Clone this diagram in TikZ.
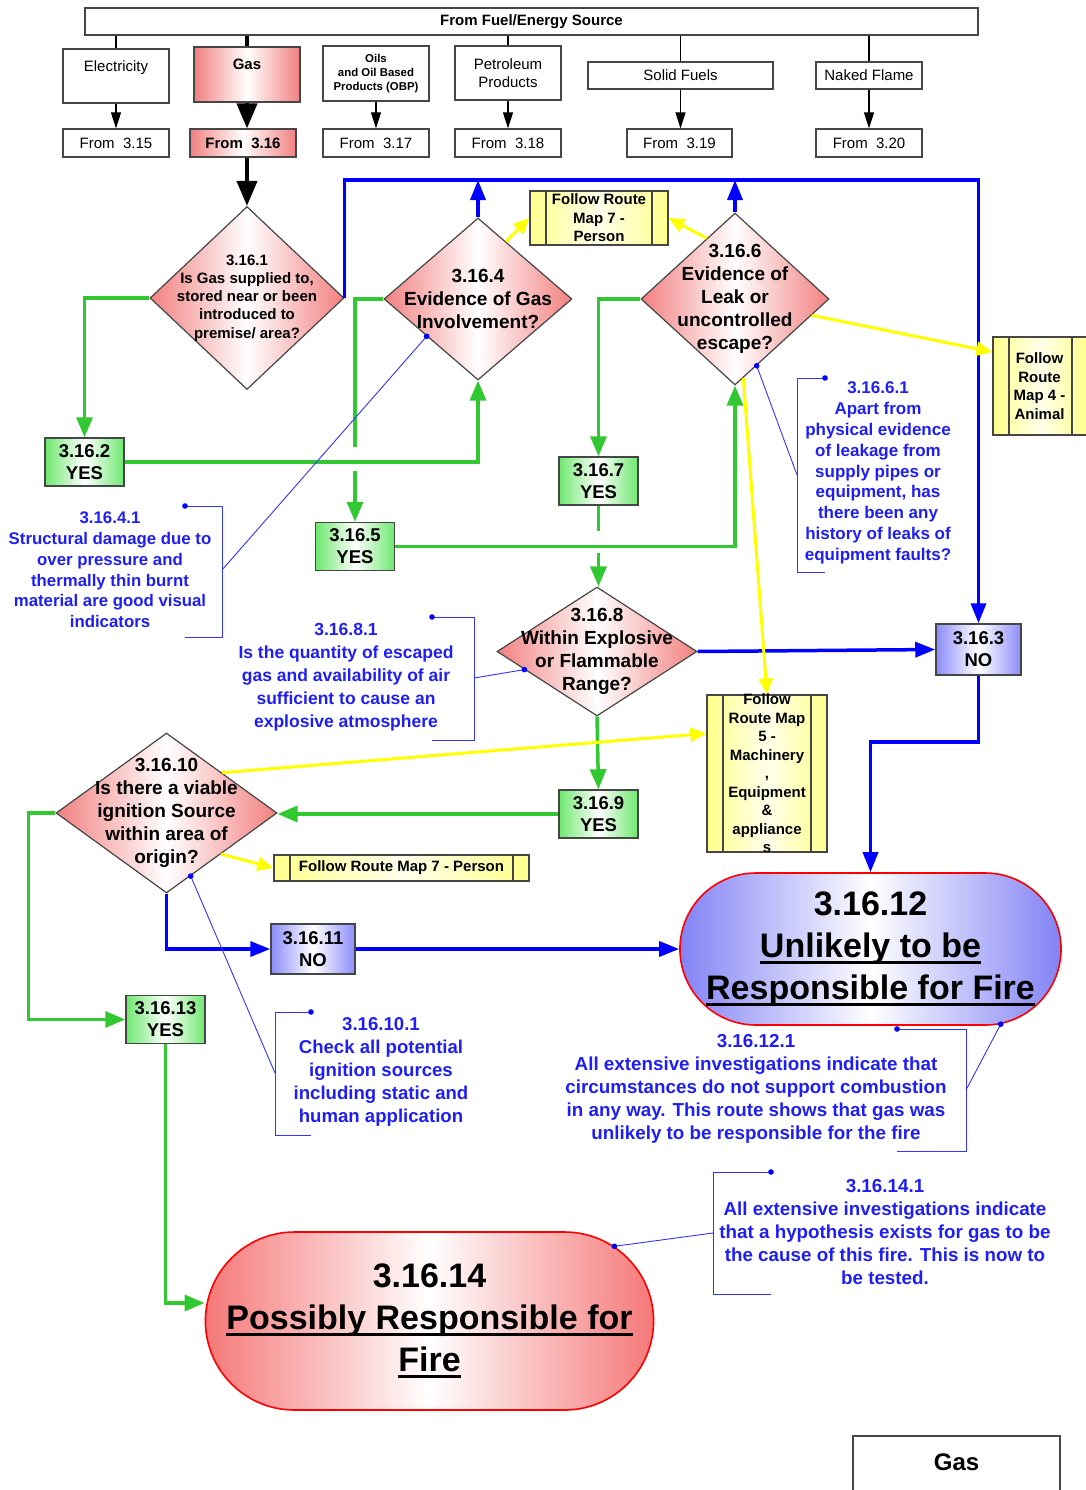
\documentclass[tikz,border=0pt]{standalone}
\usepackage{fontspec}
\setmainfont{Liberation Sans}
\usetikzlibrary{arrows.meta}
\usetikzlibrary{shapes.geometric,shapes.misc}

\definecolor{diared}{RGB}{242,128,128}
\definecolor{boxgreen}{RGB}{110,232,110}
\definecolor{boxblue}{RGB}{140,140,250}
\definecolor{boxyellow}{RGB}{255,255,140}
\definecolor{endblue}{RGB}{130,130,245}
\definecolor{endred}{RGB}{245,120,120}
\definecolor{linegreen}{RGB}{50,200,50}
\definecolor{lineblue}{RGB}{0,0,255}
\definecolor{lineyellow}{RGB}{255,255,0}
\definecolor{notetext}{RGB}{30,30,245}
\definecolor{rimgray}{RGB}{70,70,70}

\newcommand\thickul[1]{\setbox0\hbox{#1}\rlap{\rule[-7pt]{\wd0}{3pt}}\box0}

\tikzstyle{plain box}=[draw=rimgray,line width=1.2,fill=white,inner sep=0,align=center,
                       font=\fontsize{15}{18}\selectfont]
\tikzstyle{gas box}=[plain box,left color=diared,right color=diared,middle color=white,
                     font=\fontsize{15}{18}\selectfont\bfseries]
\tikzstyle{question}=[diamond,draw=rimgray,line width=1.2,left color=diared,right color=diared,
                      middle color=white,inner sep=0]
\tikzstyle{question text}=[align=center,font=\fontsize{19}{23}\selectfont\bfseries]
\tikzstyle{yes}=[draw=rimgray,line width=1.5,left color=boxgreen,right color=boxgreen,middle color=white,
                 minimum width=79pt,minimum height=48pt,inner sep=0,align=center,
                 font=\fontsize{18.5}{22}\selectfont\bfseries]
\tikzstyle{no}=[yes,left color=boxblue,right color=boxblue,middle color=white]
\tikzstyle{route}=[draw=rimgray,line width=1.2,left color=boxyellow,right color=boxyellow,
                   middle color=yellow!8,inner sep=0,
   path picture={\draw[rimgray,line width=1.2] ([xshift=16pt]path picture bounding box.north west)
                     -- ([xshift=16pt]path picture bounding box.south west);
                 \draw[rimgray,line width=1.2] ([xshift=-16pt]path picture bounding box.north east)
                     -- ([xshift=-16pt]path picture bounding box.south east);}]
\tikzstyle{route text}=[align=center,font=\fontsize{15}{18.5}\selectfont\bfseries]
\tikzstyle{outcome}=[rounded rectangle,draw=red,line width=1.6,inner sep=0,align=center,
                     font=\fontsize{34}{42}\selectfont\bfseries]
\tikzstyle{note}=[notetext,align=center,inner sep=0]
\tikzstyle{note line}=[draw=lineblue!80,line width=0.9]
\tikzstyle{yes flow}=[linegreen,line width=3.5,-{Triangle[length=20pt,width=16pt]}]
\tikzstyle{no flow}=[lineblue,line width=3.5,-{Triangle[length=20pt,width=15pt]}]
\tikzstyle{other flow}=[lineyellow,line width=3,-{Triangle[length=16pt,width=14pt]}]
\tikzstyle{feed}=[black,line width=1.2,-{Triangle[length=16pt,width=10pt]}]
\tikzstyle{gas feed}=[black,line width=4,-{Triangle[length=25pt,width=20pt]}]

\begin{document}
\begin{tikzpicture}[x=1pt,y=-1pt]
        \useasboundingbox (0,0) rectangle (1085,1490);

        % SOURCES
        \node[plain box,minimum width=893pt,minimum height=27pt,font=\fontsize{15}{18}\selectfont\bfseries]
              (src) at (531.5,21.5) {From Fuel/Energy Source};
        \node[plain box,minimum width=106pt,minimum height=54pt,text depth=20pt] (elec) at (116,76) {Electricity};
        \node[gas box,minimum width=106pt,minimum height=55pt,text depth=20pt] (gas) at (247,74.5) {Gas};
        \node[plain box,minimum width=106pt,minimum height=55pt,font=\fontsize{11.4}{14}\selectfont\bfseries]
              (oils) at (376,73.5) {Oils\\and Oil Based\\Products (OBP)};
        \node[plain box,minimum width=106pt,minimum height=54pt] (petro) at (508,73) {Petroleum\\Products};
        \node[plain box,minimum width=185pt,minimum height=27pt] (solid) at (680.5,75.5) {Solid Fuels};
        \node[plain box,minimum width=106pt,minimum height=27pt] (flame) at (869,75.5) {Naked Flame};

        \node[plain box,minimum width=106pt,minimum height=28pt] (f15) at (116,143) {From\ \ 3.15};
        \node[gas box,minimum width=106pt,minimum height=28pt] (f16) at (243,143) {From\ \ 3.16};
        \node[plain box,minimum width=106pt,minimum height=28pt] (f17) at (376,143) {From\ \ 3.17};
        \node[plain box,minimum width=106pt,minimum height=28pt] (f18) at (508,143) {From\ \ 3.18};
        \node[plain box,minimum width=105pt,minimum height=28pt] (f19) at (679.5,143) {From\ \ 3.19};
        \node[plain box,minimum width=106pt,minimum height=28pt] (f20) at (869,143) {From\ \ 3.20};

        \draw[black,line width=1.2] (elec.north) -- (elec.north |- src.south);
        \draw[black,line width=4] (gas.north) -- (gas.north |- src.south);
        \draw[black,line width=1.2] (petro.north) -- (petro.north |- src.south);
        \draw[black,line width=1.2] (solid.north) -- (solid.north |- src.south);
        \draw[black,line width=1.2] (flame.north) -- (flame.north |- src.south);

        \draw[feed] (elec.south) -- (f15.north);
        \draw[gas feed] (gas.south) -- (gas.south |- f16.north);
        \draw[feed] (oils.south) -- (f17.north);
        \draw[feed] (petro.south) -- (f18.north);
        \draw[feed] (solid.south) -- (solid.south |- f19.north);
        \draw[feed] (flame.south) -- (f20.north);

        % QUESTIONS
        \node[question,minimum width=194pt,minimum height=183pt] (d1) at (247,298) {};
        \node[question text,font=\fontsize{15}{18.3}\selectfont\bfseries] (d1txt) at (d1.center)
              {3.16.1\\Is Gas supplied to,\\stored near or been\\introduced to\\premise/ area?};
        \node[question,minimum width=188pt,minimum height=162pt] (d4) at (478,299) {};
        \node[question text] (d4txt) at (d4.center) {3.16.4\\Evidence of Gas\\Involvement?};
        \node[question,minimum width=188pt,minimum height=172pt] (d6) at (735,299) {};
        \node[question text] (d6txt) at (d6.center) {3.16.6\\Evidence of\\Leak or\\uncontrolled\\escape?};
        \node[question,minimum width=200pt,minimum height=129pt] (d8) at (597,651.5) {};
        \node[question text] (d8txt) at (d8.center) {3.16.8\\Within Explosive\\or Flammable\\Range?};
        \node[question,minimum width=221pt,minimum height=160pt] (d10) at (166.5,813) {};
        \node[question text] (d10txt) at (d10.center)
              {3.16.10\\Is there a viable\\ignition Source\\within area of\\origin?};

        \draw[gas feed] (d1.north |- f16.south) -- (d1.north);

        % ANSWERS
        \node[yes] (y2) at (84.5,462) {3.16.2\\YES};
        \node[yes] (y5) at (355,546.5) {3.16.5\\YES};
        \node[yes] (y7) at (598.5,481) {3.16.7\\YES};
        \node[yes] (y9) at (598.5,814) {3.16.9\\YES};
        \node[yes] (y13) at (165.5,1019.5) {3.16.13\\YES};
        \node[no,minimum width=85pt,minimum height=51pt] (n3) at (978.5,649.5) {3.16.3\\NO};
        \node[no,minimum width=84pt,minimum height=50pt] (n11) at (313,949) {3.16.11\\NO};

        % OTHER ROUTE MAPS
        \node[route,minimum width=138pt,minimum height=54pt] (m7a) at (599,218) {};
        \node[route text] (m7atxt) at (m7a.center) {Follow Route\\Map 7 -\\Person};
        \node[route,minimum width=95pt,minimum height=98pt] (m4) at (1040.5,386) {};
        \node[route text] (m4txt) at ([xshift=-1pt]m4.center) {Follow\\Route\\Map 4 -\\Animal};
        \node[route,minimum width=120pt,minimum height=157pt] (m5) at (767,773.5) {};
        \node[route text] (m5txt) at (m5.center)
              {Follow\\Route Map\\5 -\\Machinery\\,\\Equipment\\\&\\appliance\\s};
        \node[route,minimum width=255pt,minimum height=26pt] (m7b) at (401.5,868) {};
        \node[route text] (m7btxt) at (m7b.center) {Follow Route Map 7 - Person};

        % OUTCOMES
        \node[outcome,minimum width=379pt,minimum height=152pt,
              left color=endblue,right color=endblue,middle color=white] (t12) at (870.5,949)
              {3.16.12\\\thickul{Unlikely to be}\\\thickul{Responsible for Fire}};
        \node[outcome,minimum width=447pt,minimum height=178pt,
              left color=endred,right color=endred,middle color=white] (t14) at (429.5,1321)
              {3.16.14\\\thickul{Possibly Responsible for}\\\thickul{Fire}};
        \node[plain box,minimum width=207pt,minimum height=80pt,text depth=28pt,
              font=\fontsize{24}{28}\selectfont\bfseries] (gasbox) at (956.5,1476) {Gas};

        % YES ROUTE
        \draw[yes flow] (d1.west) -| (y2.north);
        \draw[yes flow] (d4.west) -| (y5.north);
        \draw[white,line width=6] (y5.north |- y2.east) ++(0,-15) -- ++(0,24);
        \draw[yes flow] (y2.east) -| (d4.south);
        \draw[yes flow] (d6.west) -| (y7.north);
        \draw[yes flow] (y7.south) -- (y7.south |- d8.north);
        \draw[white,line width=6] (y7.south |- y5.east) ++(0,-16) -- ++(0,22);
        \draw[yes flow] (y5.east) -| (d6.south);
        \draw[yes flow] (d8.south) -- (y9.north);
        \draw[yes flow] (y9.west) -- (y9.west -| d10.east);
        \draw[yes flow] (d10.west) -- ++(-27,0) |- (y13.west);
        \draw[yes flow] (y13.south) |- ([yshift=18pt]t14.west);

        % NO ROUTE
        \coordinate (bus) at (600,180);
        \draw[no flow] (d1.east) -- (d1.east |- bus) -| (n3.north);
        \draw[no flow] (d4.north) -- (d4.north |- bus);
        \draw[no flow] (d6.north) -- (d6.north |- bus);
        \draw[no flow] (d8.east) -- (n3.west);
        \draw[no flow] (n3.south) -- ++(0,66) -| (t12.north);
        \draw[no flow] (d10.south) |- (n11.west);
        \draw[no flow] (n11.east) -- (t12.west);

        % OTHER ROUTES
        \draw[other flow] (d4.64) -- (m7a.west);
        \draw[other flow] (d6.115) -- (m7a.east);
        \draw[other flow] (d6.-12) -- ([yshift=34pt]m4.west);
        \draw[other flow] (d6.-84) -- (m5.north);
        \draw[other flow] (d10.36) -- ([yshift=40pt]m5.west);
        \draw[other flow] (d10.-37) -- (m7b.west);

        % NOTES
        \node[note,font=\fontsize{16.8}{20.8}\selectfont\bfseries] (a41) at (110,570)
              {3.16.4.1\\Structural damage due to\\over pressure and\\thermally thin burnt\\material are good visual\\indicators};
        \coordinate (b41) at (222,570);
        \draw[note line] (185,506) -- (222,506) -- (222,637) -- (185,637);
        \draw[note line] (b41) -- (d4.216);
        \fill[lineblue] (185,506) circle (2.8pt) (d4.216) circle (2.8pt);

        \node[note,font=\fontsize{17}{20.8}\selectfont\bfseries] (a661) at (878,473)
              {3.16.6.1\\Apart from\\physical evidence\\of leakage from\\supply pipes or\\equipment, has\\there been any\\history of leaks of\\equipment faults?};
        \coordinate (b661) at (797,475);
        \draw[note line] (825,378) -- (797,378) -- (797,572) -- (825,572);
        \draw[note line] (b661) -- (d6.-72);
        \fill[lineblue] (825,378) circle (2.8pt) (d6.-72) circle (2.8pt);

        \node[note,font=\fontsize{17.5}{23}\selectfont\bfseries] (a81) at (346,677)
              {3.16.8.1\\Is the quantity of escaped\\gas and availability of air\\sufficient to cause an\\explosive atmosphere};
        \coordinate (b81) at (474,678);
        \draw[note line] (432,617) -- (474,617) -- (474,740) -- (432,740);
        \draw[note line] (b81) -- (d8.194);
        \fill[lineblue] (432,617) circle (2.8pt) (d8.194) circle (2.8pt);

        \node[note,font=\fontsize{18.6}{23}\selectfont\bfseries] (a101) at (381,1072)
              {3.16.10.1\\Check all potential\\ignition sources\\including static and\\human application};
        \coordinate (b101) at (275,1073);
        \draw[note line] (311,1012) -- (275,1012) -- (275,1135) -- (311,1135);
        \draw[note line] (b101) -- (d10.-69);
        \fill[lineblue] (311,1012) circle (2.8pt) (d10.-69) circle (2.8pt);

        \node[note,font=\fontsize{18.8}{23}\selectfont\bfseries] (a121) at (756,1089)
              {3.16.12.1\\All extensive investigations indicate that\\circumstances do not support combustion\\in any way. This route shows that gas was\\unlikely to be responsible for the fire};
        \coordinate (b121) at (966,1090);
        \draw[note line] (897,1029) -- (966,1029) -- (966,1151) -- (897,1151);
        \draw[note line] (b121) -- (t12.-30);
        \fill[lineblue] (897,1029) circle (2.8pt) (t12.-30) circle (2.8pt);

        \node[note,font=\fontsize{18.8}{23}\selectfont\bfseries] (a141) at (885,1232)
              {3.16.14.1\\All extensive investigations indicate\\that a hypothesis exists for gas to be\\the cause of this fire. This is now to\\be tested.};
        \coordinate (b141) at (713,1233);
        \draw[note line] (771,1172) -- (713,1172) -- (713,1294) -- (771,1294);
        \draw[note line] (b141) -- (t14.22);
        \fill[lineblue] (771,1172) circle (2.8pt) (t14.22) circle (2.8pt);

    \end{tikzpicture}
\end{document}
